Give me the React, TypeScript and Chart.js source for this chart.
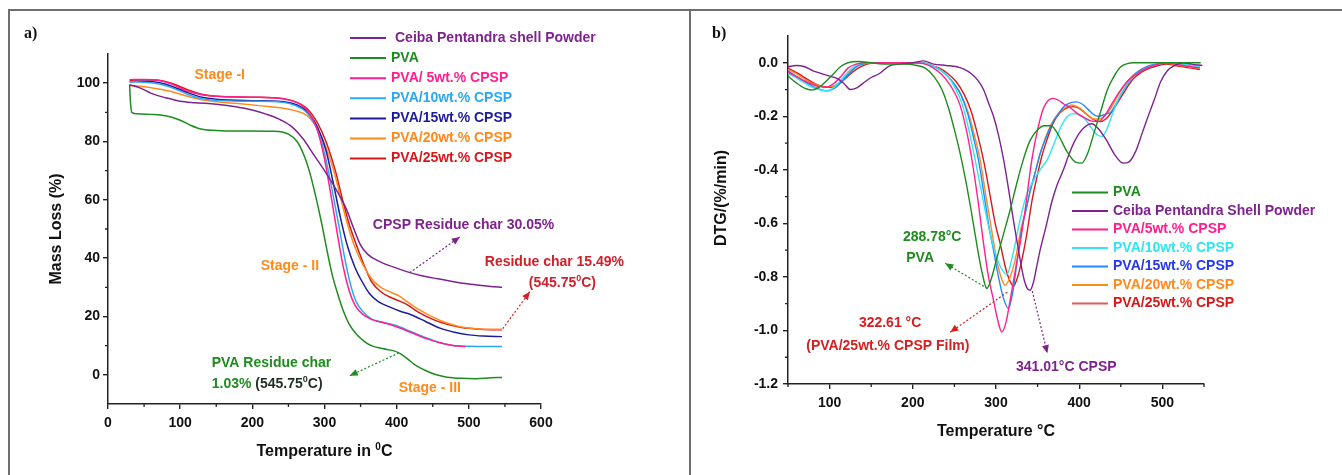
import React, { useEffect, useRef } from "react";
import { Chart, registerables } from "chart.js";
Chart.register(...registerables);

const SANS = '"Liberation Sans", Arial, sans-serif';
const SERIF = '"Liberation Serif", "Times New Roman", serif';

// ---------------- Panel a: TGA ----------------
const tgaXTicks = [0, 100, 200, 300, 400, 500, 600];
const tgaXMinor = [50, 150, 250, 350, 450, 550];
const tgaYTicks = [0, 20, 40, 60, 80, 100];
const tgaYMinor = [10, 30, 50, 70, 90];

const tgaCeibaT = [30, 45, 60, 80, 100, 120, 150, 175, 200, 220, 240, 255, 270, 285, 300, 315, 330, 340, 350, 360, 375, 395, 415, 435, 455, 475, 495, 515, 530, 546];
const tgaCeibaM = [99.5, 98.3, 96.5, 95, 93.8, 93.3, 92.8, 92, 90.8, 89.3, 87.3, 85, 81, 75.5, 70, 64, 57, 50.5, 44.5, 41.3, 39, 37, 35.3, 34, 33, 32.1, 31.3, 30.7, 30.3, 30.05];

const tgaPvaT = [30, 31, 33, 40, 60, 80, 100, 115, 130, 150, 180, 230, 250, 262, 272, 280, 288, 296, 304, 311, 318, 326, 334, 344, 355, 365, 380, 395, 405, 415, 425, 440, 455, 470, 490, 510, 530, 546];
const tgaPvaM = [99.5, 94, 90, 89.5, 89.3, 88.8, 87.3, 85.5, 84.2, 83.8, 83.6, 83.5, 82.5, 80, 75, 69, 61, 52, 42, 34, 28, 22, 17.5, 14, 11.5, 10, 9, 8.3, 7.3, 5.5, 3.5, 1.5, 0, -0.8, -1.2, -1.3, -1, -0.9];

const tga5T = [30, 50, 70, 90, 110, 130, 150, 200, 240, 260, 275, 290, 300, 310, 318, 326, 334, 342, 352, 365, 380, 400, 420, 440, 460, 480, 495];
const tga5M = [101.2, 101.3, 101, 99.5, 97.3, 96, 95.5, 95.2, 94.8, 93.5, 91, 84, 74, 60, 48, 37, 29, 24, 21, 19, 18, 16.5, 14.5, 12.5, 11, 10, 9.7];

const tga10T = [30, 50, 70, 90, 110, 130, 150, 200, 240, 260, 275, 290, 300, 310, 320, 328, 336, 344, 354, 365, 380, 400, 420, 440, 460, 480, 500, 520, 546];
const tga10M = [100.5, 100.3, 99.8, 98.3, 96.2, 94.7, 94.1, 93.8, 93.5, 92.3, 90, 84, 76, 64, 51, 40, 31, 25, 21.5, 19.2, 18, 16.8, 14.8, 12.8, 11, 10, 9.8, 9.7, 9.7];

const tga15T = [30, 50, 70, 90, 110, 130, 150, 200, 240, 260, 275, 290, 302, 312, 322, 332, 342, 352, 362, 375, 390, 405, 420, 440, 460, 480, 500, 520, 546];
const tga15M = [100.5, 100.7, 100.2, 98.8, 96.8, 95.2, 94.5, 94, 93.7, 92.7, 90.5, 85, 77, 66, 54, 44, 37, 32, 28, 25, 23.3, 21.8, 20.6, 18.3, 16, 14.6, 13.7, 13.3, 13.1];

const tga20T = [30, 50, 70, 90, 110, 130, 150, 180, 210, 240, 260, 275, 290, 302, 315, 325, 335, 345, 355, 365, 378, 392, 405, 415, 430, 450, 470, 490, 510, 530, 546];
const tga20M = [99.2, 98.8, 98, 97, 95.5, 94.3, 93.6, 93, 92.3, 91.5, 90.5, 89, 84.5, 78, 68, 58, 49, 42, 37, 33, 30, 28.3, 26.8, 25, 22.5, 19.8, 17.8, 16.4, 15.8, 15.6, 15.6];

const tga25T = [30, 50, 70, 90, 110, 130, 150, 200, 240, 260, 275, 290, 302, 315, 325, 335, 345, 355, 365, 378, 392, 405, 415, 430, 450, 470, 490, 510, 530, 546];
const tga25M = [101, 101.2, 101, 99.8, 97.8, 96.2, 95.5, 95.2, 94.7, 93.6, 91.5, 86.5, 80, 70, 60, 51, 44, 37.5, 32, 28.5, 26.5, 25.2, 24, 21.5, 19, 17.3, 16.2, 15.7, 15.5, 15.5];

// ---------------- Panel b: DTG ----------------
const dtgXTicks = [100, 200, 300, 400, 500];
const dtgXMinor = [50, 150, 250, 350, 450, 550];
const dtgYTicks = [-1.2, -1.0, -0.8, -0.6, -0.4, -0.2, 0.0];
const dtgYMinor = [-1.1, -0.9, -0.7, -0.5, -0.3, -0.1];

const dtgPvaT = [50, 60, 70, 78, 88, 97, 105, 113, 122, 135, 150, 170, 190, 205, 215, 225, 235, 243, 250, 257, 263, 270, 277, 283, 289, 295, 301, 309, 317, 325, 333, 341, 350, 358, 366, 375, 385, 395, 403, 410, 418, 426, 434, 442, 450, 458, 465, 480, 500, 520, 546];
const dtgPvaD = [-0.05, -0.075, -0.095, -0.102, -0.09, -0.065, -0.04, -0.015, 0, 0.005, 0, -0.005, -0.005, -0.01, -0.02, -0.05, -0.1, -0.17, -0.25, -0.34, -0.43, -0.55, -0.68, -0.78, -0.843, -0.8, -0.73, -0.64, -0.55, -0.45, -0.36, -0.29, -0.25, -0.235, -0.235, -0.27, -0.33, -0.37, -0.375, -0.34, -0.26, -0.18, -0.1, -0.05, -0.015, -0.003, 0, 0, 0, 0, 0];

const dtgCeibaT = [50, 60, 70, 80, 90, 100, 110, 118, 125, 132, 140, 150, 160, 172, 185, 200, 213, 225, 240, 253, 262, 270, 278, 285, 291, 297, 303, 309, 315, 321, 327, 333, 337, 341, 345, 349, 353, 357, 361, 367, 373, 381, 388, 395, 405, 415, 424, 433, 442, 453, 460, 468, 476, 484, 490, 498, 506, 515, 525, 535, 548];
const dtgCeibaD = [-0.015, -0.01, -0.015, -0.03, -0.04, -0.05, -0.06, -0.08, -0.1, -0.095, -0.077, -0.055, -0.04, -0.012, -0.005, 0, 0.007, -0.005, -0.01, -0.015, -0.025, -0.04, -0.065, -0.1, -0.15, -0.2, -0.27, -0.36, -0.47, -0.59, -0.7, -0.8, -0.84, -0.85, -0.82, -0.76, -0.7, -0.65, -0.6, -0.52, -0.46, -0.4, -0.34, -0.29, -0.245, -0.228, -0.25, -0.29, -0.34, -0.375, -0.37, -0.33, -0.26, -0.19, -0.14, -0.07, -0.03, -0.01, 0, -0.005, -0.01];

const dtg5T = [50, 62, 75, 87, 97, 106, 114, 122, 132, 145, 170, 200, 215, 225, 235, 243, 250, 257, 265, 272, 279, 285, 291, 297, 302, 307, 312, 317, 323, 329, 335, 343, 350, 357, 363, 369, 375, 382, 390, 398, 406, 414, 423, 430, 438, 446, 455, 465, 475, 485, 495, 505, 515, 525, 535, 545];
const dtg5D = [-0.035, -0.055, -0.075, -0.088, -0.09, -0.075, -0.05, -0.02, -0.005, 0, 0, 0, -0.005, -0.02, -0.045, -0.075, -0.11, -0.16, -0.26, -0.38, -0.53, -0.675, -0.8, -0.887, -0.96, -1.006, -0.97, -0.887, -0.78, -0.675, -0.55, -0.364, -0.25, -0.17, -0.14, -0.133, -0.14, -0.155, -0.17, -0.19, -0.205, -0.217, -0.22, -0.2, -0.16, -0.12, -0.08, -0.05, -0.03, -0.015, -0.005, 0, -0.005, -0.01, -0.015, -0.02];

const dtg10T = [50, 62, 75, 87, 97, 106, 115, 125, 135, 150, 180, 210, 222, 232, 242, 250, 260, 268, 275, 283, 291, 298, 305, 313, 320, 328, 336, 345, 353, 362, 370, 378, 386, 393, 400, 407, 415, 422, 427, 433, 440, 448, 456, 465, 475, 485, 495, 505, 515, 525, 535, 545];
const dtg10D = [-0.04, -0.06, -0.085, -0.1, -0.105, -0.09, -0.06, -0.025, -0.005, 0, 0, 0, -0.01, -0.025, -0.05, -0.09, -0.16, -0.26, -0.364, -0.49, -0.61, -0.7, -0.76, -0.79, -0.72, -0.6, -0.5, -0.44, -0.4, -0.36, -0.3, -0.24, -0.2, -0.19, -0.195, -0.21, -0.245, -0.27, -0.275, -0.25, -0.19, -0.13, -0.085, -0.05, -0.03, -0.015, -0.005, 0, 0, -0.005, -0.01, -0.015];

const dtg15T = [50, 62, 75, 87, 97, 106, 115, 125, 135, 150, 180, 210, 222, 232, 242, 250, 258, 266, 273, 279, 286, 292, 297, 303, 309, 315, 320, 325, 331, 336, 341, 347, 353, 360, 367, 375, 383, 391, 397, 404, 411, 418, 423, 429, 434, 438, 443, 450, 458, 466, 475, 485, 495, 505, 515, 525, 535, 545];
const dtg15D = [-0.03, -0.055, -0.08, -0.098, -0.105, -0.095, -0.07, -0.035, -0.01, 0, 0, 0, -0.01, -0.025, -0.05, -0.08, -0.12, -0.19, -0.28, -0.364, -0.5, -0.62, -0.7, -0.8, -0.88, -0.918, -0.86, -0.75, -0.62, -0.55, -0.48, -0.41, -0.34, -0.28, -0.23, -0.19, -0.16, -0.148, -0.146, -0.155, -0.175, -0.195, -0.2, -0.195, -0.19, -0.185, -0.16, -0.12, -0.08, -0.045, -0.025, -0.01, -0.005, 0, 0, -0.005, -0.01, -0.015];

const dtg20T = [50, 62, 75, 87, 97, 106, 115, 125, 135, 150, 180, 210, 222, 232, 242, 250, 258, 266, 274, 281, 288, 295, 301, 306, 311, 317, 323, 330, 336, 341, 348, 355, 362, 370, 378, 385, 391, 398, 405, 412, 418, 424, 430, 437, 445, 453, 462, 472, 482, 492, 502, 512, 522, 532, 545];
const dtg20D = [-0.025, -0.045, -0.07, -0.085, -0.09, -0.085, -0.065, -0.03, -0.01, 0, 0, 0, -0.01, -0.025, -0.05, -0.08, -0.12, -0.18, -0.27, -0.364, -0.5, -0.63, -0.738, -0.8, -0.831, -0.8, -0.738, -0.62, -0.55, -0.48, -0.4, -0.32, -0.26, -0.21, -0.18, -0.165, -0.158, -0.165, -0.18, -0.2, -0.21, -0.21, -0.2, -0.175, -0.13, -0.09, -0.055, -0.03, -0.015, -0.005, 0, -0.005, -0.01, -0.015, -0.02];

const dtg25T = [50, 62, 75, 87, 97, 105, 113, 122, 132, 145, 160, 180, 210, 222, 232, 242, 252, 262, 270, 278, 285, 292, 299, 305, 311, 316, 321, 326, 331, 337, 343, 349, 355, 361, 368, 376, 384, 393, 400, 408, 416, 425, 432, 440, 448, 456, 465, 475, 485, 495, 505, 515, 525, 535, 545];
const dtg25D = [-0.02, -0.04, -0.065, -0.085, -0.092, -0.09, -0.075, -0.05, -0.025, -0.005, 0, 0, 0, -0.01, -0.02, -0.04, -0.07, -0.12, -0.18, -0.27, -0.364, -0.48, -0.6, -0.675, -0.76, -0.81, -0.835, -0.8, -0.738, -0.64, -0.52, -0.43, -0.35, -0.29, -0.23, -0.19, -0.17, -0.164, -0.17, -0.19, -0.21, -0.22, -0.21, -0.18, -0.14, -0.1, -0.06, -0.035, -0.02, -0.01, -0.005, -0.01, -0.015, -0.02, -0.025];

// ---------------- helpers ----------------
const pts = (t: number[], v: number[]) => t.map((x, i) => ({ x, y: v[i] }));

type Part = { t: string; c: string; sup?: boolean };

function rich(ctx: CanvasRenderingContext2D, parts: Part[], x: number, y: number, size: number, align: "left" | "center" = "left") {
  ctx.save();
  ctx.textBaseline = "middle";
  ctx.textAlign = "left";
  const f = (p: Part) => `bold ${p.sup ? Math.round(size * 0.62) : size}px ${SANS}`;
  let w = 0;
  parts.forEach((p) => { ctx.font = f(p); w += ctx.measureText(p.t).width; });
  let cx = align === "center" ? x - w / 2 : x;
  parts.forEach((p) => {
    ctx.font = f(p);
    ctx.fillStyle = p.c;
    ctx.fillText(p.t, cx, p.sup ? y - size * 0.32 : y);
    cx += ctx.measureText(p.t).width;
  });
  ctx.restore();
}

function arrow(ctx: CanvasRenderingContext2D, x1: number, y1: number, x2: number, y2: number, color: string) {
  ctx.save();
  ctx.strokeStyle = color;
  ctx.fillStyle = color;
  ctx.lineWidth = 1.2;
  ctx.setLineDash([2, 2]);
  ctx.beginPath();
  ctx.moveTo(x1, y1);
  ctx.lineTo(x2, y2);
  ctx.stroke();
  ctx.setLineDash([]);
  const a = Math.atan2(y2 - y1, x2 - x1), L = 8, W = 3.5;
  ctx.beginPath();
  ctx.moveTo(x2, y2);
  ctx.lineTo(x2 - L * Math.cos(a) + W * Math.sin(a), y2 - L * Math.sin(a) - W * Math.cos(a));
  ctx.lineTo(x2 - L * Math.cos(a) - W * Math.sin(a), y2 - L * Math.sin(a) + W * Math.cos(a));
  ctx.closePath();
  ctx.fill();
  ctx.restore();
}

function minorTicks(chart: any, xs: number[], ys: number[]) {
  const { ctx, chartArea } = chart;
  const x = chart.scales.x, y = chart.scales.y;
  ctx.save();
  ctx.strokeStyle = "#222";
  ctx.lineWidth = 1.3;
  ctx.beginPath();
  xs.forEach((v) => { const p = x.getPixelForValue(v); ctx.moveTo(p, chartArea.bottom); ctx.lineTo(p, chartArea.bottom + 3); });
  ys.forEach((v) => { const p = y.getPixelForValue(v); ctx.moveTo(chartArea.left, p); ctx.lineTo(chartArea.left - 3, p); });
  ctx.stroke();
  ctx.restore();
}

function legend(ctx: CanvasRenderingContext2D, items: { label: string; line: string; text: string; gap?: number }[], x0: number, y0: number, dy: number, len: number, size: number) {
  items.forEach((it, i) => {
    const yy = y0 + i * dy;
    ctx.save();
    ctx.strokeStyle = it.line;
    ctx.lineWidth = 2;
    ctx.beginPath();
    ctx.moveTo(x0, yy);
    ctx.lineTo(x0 + len, yy);
    ctx.stroke();
    ctx.restore();
    rich(ctx, [{ t: it.label, c: it.text }], x0 + len + (it.gap ?? 5), yy, size);
  });
}

function vTitle(ctx: CanvasRenderingContext2D, s: string, x: number, y: number, size: number) {
  ctx.save();
  ctx.translate(x, y);
  ctx.rotate(-Math.PI / 2);
  ctx.font = `bold ${size}px ${SANS}`;
  ctx.fillStyle = "#111";
  ctx.textAlign = "center";
  ctx.textBaseline = "middle";
  ctx.fillText(s, 0, 0);
  ctx.restore();
}

const tickFont = { family: SANS, size: 14, weight: "bold" as const };

function axis(min: number, max: number, ticks: number[], fit: (s: any) => void, pad: number, fmt?: (v: number) => string) {
  return {
    type: "linear" as const,
    min,
    max,
    afterBuildTicks: (s: any) => { s.ticks = ticks.map((v) => ({ value: v })); },
    afterFit: fit,
    ticks: { font: tickFont, color: "#111", padding: pad, autoSkip: false, maxRotation: 0, callback: fmt ? (v: any) => fmt(Number(v)) : (v: any) => String(v) },
    grid: { drawOnChartArea: false, drawTicks: true, tickLength: 5, color: "#222", lineWidth: 1.4 },
    border: { display: true, color: "#222", width: 1.5 },
  };
}

function ds(label: string, t: number[], v: number[], color: string, width = 1.5) {
  return { label, data: pts(t, v), borderColor: color, backgroundColor: color, borderWidth: width, pointRadius: 0, cubicInterpolationMode: "monotone" as const, fill: false };
}

const C = {
  purple: "#7e2290",
  green: "#1e8c1e",
  pink: "#ff1f8e",
  lblue: "#2aa8f4",
  navy: "#1c1c9a",
  orange: "#ff8a1c",
  red: "#d81818",
  cyan: "#2fe6f2",
  blue: "#1e8cff",
};

function configA(): any {
  const plugin = {
    id: "annotA",
    afterDraw(chart: any) {
      const { ctx, chartArea } = chart;
      const X = (v: number) => chart.scales.x.getPixelForValue(v);
      const Y = (v: number) => chart.scales.y.getPixelForValue(v);
      minorTicks(chart, tgaXMinor, tgaYMinor);
      // panel label
      ctx.save();
      ctx.font = `bold 16px ${SERIF}`;
      ctx.fillStyle = "#111";
      ctx.textBaseline = "middle";
      ctx.fillText("a)", 24, 34);
      ctx.restore();
      // axis titles
      rich(ctx, [{ t: "Temperature in ", c: "#111" }, { t: "0", c: "#111", sup: true }, { t: "C", c: "#111" }], (chartArea.left + chartArea.right) / 2, chartArea.bottom + 48, 16, "center");
      vTitle(ctx, "Mass Loss (%)", chartArea.left - 51, (chartArea.top + chartArea.bottom) / 2, 16);
      // legend
      legend(ctx, [
        { label: "Ceiba Pentandra shell Powder", line: C.purple, text: C.purple, gap: 9 },
        { label: "PVA", line: C.green, text: C.green },
        { label: "PVA/ 5wt.% CPSP", line: C.pink, text: C.pink },
        { label: "PVA/10wt.% CPSP", line: C.lblue, text: C.lblue },
        { label: "PVA/15wt.% CPSP", line: C.navy, text: C.navy },
        { label: "PVA/20wt.% CPSP", line: C.orange, text: C.orange },
        { label: "PVA/25wt.% CPSP", line: C.red, text: C.red },
      ], 350, 38, 20.1, 36, 14);
      // annotations
      const or = "#ff8a1c";
      rich(ctx, [{ t: "Stage -I", c: or }], X(154.8), Y(102.8), 14, "center");
      rich(ctx, [{ t: "Stage - II", c: or }], X(252), Y(37.4), 14, "center");
      rich(ctx, [{ t: "Stage - III", c: or }], X(446), Y(-4.5), 14, "center");
      rich(ctx, [{ t: "CPSP Residue char 30.05%", c: C.purple }], X(367), Y(51.4), 14);
      arrow(ctx, X(418), Y(35), X(487.5), Y(47.3), C.purple);
      const rd = "#d0202a";
      rich(ctx, [{ t: "Residue char 15.49%", c: rd }], X(618.6), Y(38.7), 14, "center");
      rich(ctx, [{ t: "(545.75", c: rd }, { t: "0", c: rd, sup: true }, { t: "C)", c: rd }], X(629.6), Y(31.5), 14, "center");
      arrow(ctx, X(547), Y(15.8), X(584.5), Y(28.5), rd);
      rich(ctx, [{ t: "PVA Residue char", c: C.green }], X(143.7), Y(4.1), 14);
      rich(ctx, [{ t: "1.03% ", c: C.green }, { t: "(545.75", c: "#1f2f1f" }, { t: "0", c: "#1f2f1f", sup: true }, { t: "C)", c: "#1f2f1f" }], X(143.7), Y(-3.1), 14);
      arrow(ctx, X(403), Y(7.5), X(335), Y(-0.3), C.green);
    },
  };
  return {
    type: "line",
    data: {
      datasets: [
        ds("Ceiba Pentandra shell Powder", tgaCeibaT, tgaCeibaM, C.purple),
        ds("PVA", tgaPvaT, tgaPvaM, C.green),
        ds("PVA/ 5wt.% CPSP", tga5T, tga5M, C.pink),
        ds("PVA/10wt.% CPSP", tga10T, tga10M, C.lblue),
        ds("PVA/15wt.% CPSP", tga15T, tga15M, C.navy),
        ds("PVA/20wt.% CPSP", tga20T, tga20M, C.orange),
        ds("PVA/25wt.% CPSP", tga25T, tga25M, C.red),
      ],
    },
    options: {
      responsive: false,
      animation: false,
      devicePixelRatio: 1,
      layout: { padding: { left: 0, right: 149, top: 54, bottom: 0 } },
      plugins: { legend: { display: false }, tooltip: { enabled: false } },
      scales: {
        x: axis(0, 600, tgaXTicks, (s) => { s.height = 71; }, 6),
        y: axis(-10, 110, tgaYTicks, (s) => { s.width = 108; }, 3),
      },
    },
    plugins: [plugin],
  };
}

function configB(): any {
  const plugin = {
    id: "annotB",
    afterDraw(chart: any) {
      const { ctx, chartArea } = chart;
      const X = (v: number) => chart.scales.x.getPixelForValue(v);
      const Y = (v: number) => chart.scales.y.getPixelForValue(v);
      minorTicks(chart, dtgXMinor, dtgYMinor);
      ctx.save();
      ctx.font = `bold 16px ${SERIF}`;
      ctx.fillStyle = "#111";
      ctx.textBaseline = "middle";
      ctx.fillText("b)", 22, 34);
      ctx.restore();
      rich(ctx, [{ t: "Temperature °C", c: "#111" }], (chartArea.left + chartArea.right) / 2, chartArea.bottom + 48, 16, "center");
      vTitle(ctx, "DTG/(%/min)", chartArea.left - 66, 198, 16);
      legend(ctx, [
        { label: "PVA", line: C.green, text: C.green },
        { label: "Ceiba Pentandra Shell Powder", line: C.purple, text: C.purple },
        { label: "PVA/5wt.% CPSP", line: C.pink, text: C.pink },
        { label: "PVA/10wt.% CPSP", line: C.cyan, text: C.cyan },
        { label: "PVA/15wt.% CPSP", line: C.blue, text: "#2438ee" },
        { label: "PVA/20wt.% CPSP", line: C.orange, text: C.orange },
        { label: "PVA/25wt.% CPSP", line: "#e05a5a", text: C.red },
      ], 382, 192.5, 18.5, 36, 14);
      rich(ctx, [{ t: "288.78°C", c: C.green }], X(223.3), Y(-0.652), 14, "center");
      rich(ctx, [{ t: "PVA", c: C.green }], X(208.8), Y(-0.73), 14, "center");
      arrow(ctx, X(289.5), Y(-0.843), X(239), Y(-0.749), C.green);
      const rd = "#d42020";
      rich(ctx, [{ t: "322.61 °C", c: rd }], X(172.7), Y(-0.973), 14, "center");
      rich(ctx, [{ t: "(PVA/25wt.% CPSP Film)", c: rd }], X(170), Y(-1.059), 14, "center");
      arrow(ctx, X(313.5), Y(-0.857), X(245), Y(-1.007), rd);
      rich(ctx, [{ t: "341.01°C CPSP", c: C.purple }], X(384.5), Y(-1.138), 14, "center");
      arrow(ctx, X(343.6), Y(-0.853), X(361.7), Y(-1.085), C.purple);
    },
  };
  return {
    type: "line",
    data: {
      datasets: [
        ds("PVA", dtgPvaT, dtgPvaD, C.green, 1.4),
        ds("Ceiba Pentandra Shell Powder", dtgCeibaT, dtgCeibaD, C.purple, 1.4),
        ds("PVA/5wt.% CPSP", dtg5T, dtg5D, C.pink, 1.4),
        ds("PVA/10wt.% CPSP", dtg10T, dtg10D, C.cyan, 1.4),
        ds("PVA/15wt.% CPSP", dtg15T, dtg15D, C.blue, 1.4),
        ds("PVA/20wt.% CPSP", dtg20T, dtg20D, C.orange, 1.4),
        ds("PVA/25wt.% CPSP", dtg25T, dtg25D, C.red, 1.4),
      ],
    },
    options: {
      responsive: false,
      animation: false,
      devicePixelRatio: 1,
      layout: { padding: { left: 0, right: 138, top: 36, bottom: 0 } },
      plugins: { legend: { display: false }, tooltip: { enabled: false } },
      scales: {
        x: axis(50, 550, dtgXTicks, (s) => { s.height = 91; }, 6),
        y: axis(-1.2, 0.1, dtgYTicks, (s) => { s.width = 98; }, 5, (v) => v.toFixed(1)),
      },
    },
    plugins: [plugin],
  };
}

export default function App() {
  const refA = useRef<HTMLCanvasElement>(null);
  const refB = useRef<HTMLCanvasElement>(null);
  useEffect(() => {
    const a = new Chart(refA.current as HTMLCanvasElement, configA());
    const b = new Chart(refB.current as HTMLCanvasElement, configB());
    return () => {
      a.destroy();
      b.destroy();
    };
  }, []);
  const line = "#6e6e6e";
  return (
    <div style={{ position: "fixed", left: 0, top: 0, width: 1342, height: 475, background: "#fff", overflow: "hidden" }}>
      <canvas ref={refA} width={690} height={475} style={{ position: "absolute", left: 0, top: 0, width: 690, height: 475 }} />
      <canvas ref={refB} width={652} height={475} style={{ position: "absolute", left: 690, top: 0, width: 652, height: 475 }} />
      <div style={{ position: "absolute", left: 8, top: 9, width: 1334, height: 2, background: line }} />
      <div style={{ position: "absolute", left: 8, top: 9, width: 2, height: 466, background: line }} />
      <div style={{ position: "absolute", left: 689, top: 9, width: 2, height: 466, background: line }} />
    </div>
  );
}
